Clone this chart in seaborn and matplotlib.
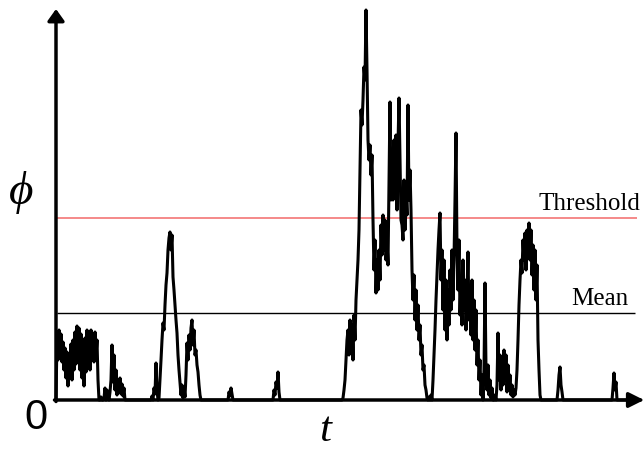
import numpy as np
import pandas as pd
import seaborn as sns
import matplotlib.pyplot as plt

sns.set_style("white")
plt.rcParams["font.family"] = ["Liberation Serif", "DejaVu Serif"]
plt.rcParams["text.color"] = "black"

burst_a_start = 1
burst_a = [62, 40, 70, 45, 66, 38, 58, 30, 52, 22, 48, 14, 44, 28, 56, 20, 60, 30,
           68, 36, 74, 40, 72, 30, 66, 22, 58, 14, 62, 28, 70, 36, 64, 30, 70, 42,
           66, 38, 68, 44, 60, 20, 0]
blips_a_start = 44
blips_a = [0, 3, 0, 0, 2, 12, 0, 10, 4, 0, 8, 20, 55, 18, 45, 10, 30, 5, 20, 8,
           22, 6, 16, 4, 12, 0]
burst_b_start = 95
burst_b = [0, 4, 0, 12, 6, 37, 10, 0, 2, 20, 40, 60, 77, 70, 95, 115, 127, 150,
           162, 168, 150, 165, 123, 110, 95, 80, 67, 45, 30, 17, 5, 15, 2, 12, 3,
           25, 57, 40, 65, 50, 72, 80, 55, 70, 45, 50, 35, 28, 15, 5, 0]
blip_b_start = 172
blip_b = [0, 8, 4, 12, 6, 0]
blip_c_start = 217
blip_c = [0, 10, 5, 18, 12, 28, 8, 0]
burst_c_start = 286
burst_c = [0, 2, 10, 20, 40, 60, 70, 45, 80, 50, 75, 40, 85, 60, 100, 120, 140,
           170, 230, 290, 275, 300, 333, 320, 390, 330, 260, 240, 255, 225, 245,
           180, 130, 160, 107, 140, 110, 150, 120, 175, 145, 185, 150, 180, 140,
           160, 135, 220, 298, 200, 250, 200, 260, 210, 265, 190, 255, 302, 240,
           180, 175, 160, 220, 170, 210, 185, 295, 200, 230, 190, 130, 100, 125,
           80, 110, 70, 95, 60, 75, 45, 55, 30, 35, 15, 10, 2, 0, 3, 0, 5, 0, 20,
           45, 70, 100, 125, 150, 170, 187, 120, 150, 90, 140, 70, 120, 60, 110,
           75, 130, 90, 150, 100, 140, 200, 267, 150, 110, 160, 85, 120, 75, 140,
           90, 120, 70, 105, 148, 80, 110, 65, 120, 60, 100, 50, 90, 35, 60, 20,
           40, 5, 25, 0, 30, 117, 30, 10, 35, 5, 20, 2, 12, 0, 0, 5, 0, 15, 67,
           20, 45, 10, 40, 15, 50, 20, 45, 8, 35, 10, 25, 5, 15, 3, 10, 5, 12, 30,
           60, 95, 120, 140, 127, 160, 140, 167, 130, 170, 150, 177, 140, 170,
           125, 155, 110, 150, 100, 135, 60, 30, 5, 0]
blip_d_start = 501
blip_d = [0, 10, 25, 33, 15, 8, 0]
blip_e_start = 556
blip_e = [0, 12, 27, 10, 18, 0]

threshold = 182
mean = 87

starts = [burst_a_start, blips_a_start, burst_b_start, blip_b_start, blip_c_start,
          burst_c_start, blip_d_start, blip_e_start]
parts = [burst_a, blips_a, burst_b, blip_b, blip_c, burst_c, blip_d, blip_e]
t = np.concatenate([[0]] + [s + np.arange(len(p)) for s, p in zip(starts, parts)] + [[585]])
phi = np.concatenate([[0]] + [np.array(p, float) for p in parts] + [[0]])
df = pd.DataFrame({"t": t, "phi": phi})

fig = plt.figure(figsize=(6.44, 4.5), dpi=100)
ax = fig.add_axes([0, 0, 1, 1])
ax.set_xlim(-56, 588)
ax.set_ylim(-50, 400)
ax.axis("off")

ax.hlines(threshold, 1, 581, color="#f26a6a", lw=1.1)
ax.hlines(mean, 1, 579, color="black", lw=1.0)

sns.lineplot(data=df, x="t", y="phi", estimator=None, sort=False,
             color="black", lw=2.2, ax=ax)

# axes with arrow heads
ax.annotate("", xy=(588, 0), xytext=(-1.5, 0),
            arrowprops=dict(arrowstyle="-|>,head_length=0.9,head_width=0.45",
                            lw=2.5, color="black", shrinkA=0, shrinkB=0))
ax.annotate("", xy=(0, 391), xytext=(0, -1.5),
            arrowprops=dict(arrowstyle="-|>,head_length=0.7,head_width=0.5",
                            lw=2.5, color="black", shrinkA=0, shrinkB=0))

ax.text(584, 190, "Threshold", fontsize=18, ha="right", va="baseline")
ax.text(572, 95, "Mean", fontsize=18, ha="right", va="baseline")
ax.text(-20, -18, "0", fontsize=30, ha="center", va="center",
        family=["Liberation Sans", "DejaVu Sans"])
ax.text(269, -41, "t", fontsize=31, ha="center", va="baseline", style="italic")
ax.text(-35, 207, "\u03d5", fontsize=34, ha="center", va="center", style="italic")

fig.savefig("out.png", dpi=100)
